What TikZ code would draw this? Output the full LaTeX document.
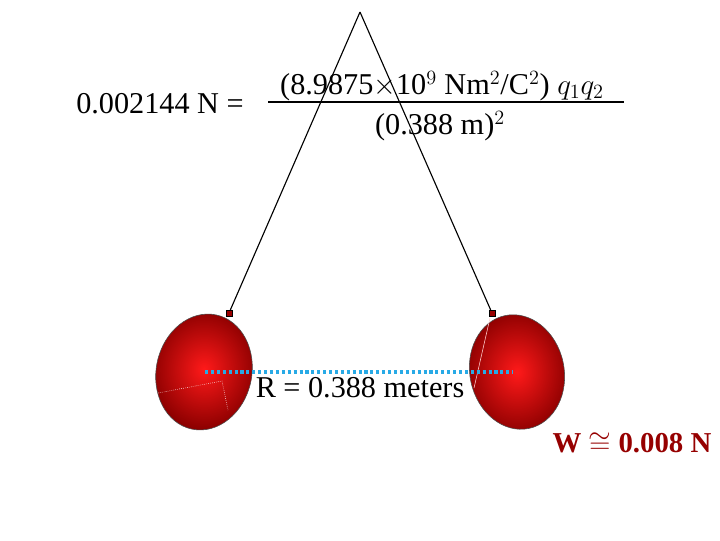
\documentclass[tikz,border=0pt]{standalone}
\usepackage{fontspec}
\setmainfont{Liberation Serif}
\usetikzlibrary{positioning,shapes.geometric}
\definecolor{skyline}{RGB}{40,170,230}
\definecolor{wred}{RGB}{150,0,0}
\tikzset{
    balloon/.style={ellipse, draw=black!70, thin, inner sep=0pt,
        inner color=red!90!white, outer color=red!55!black},
    knot/.style={fill=red!60!black, draw=black, minimum size=4pt, inner sep=0pt},
    txt/.style={font=\fontsize{21.5}{25}\selectfont, inner sep=1pt}
}
\begin{document}
\begin{tikzpicture}[x=0.025cm, y=-0.025cm]
    \useasboundingbox (0,0) rectangle (720,540);

    \coordinate (apex) at (360,12);
    \node[balloon, minimum width=68pt, minimum height=83pt, rotate=-12] (lball) at (204,372) {};
    \node[balloon, minimum width=67pt, minimum height=82pt, rotate=12] (rball) at (517,372) {};
    \node[knot] (lknot) at (229,313) {};
    \node[knot] (rknot) at (492,313) {};

    \draw[thick] (apex) -- (lknot);
    \draw[thick] (apex) -- (rknot);

    % faint marks on the balloons
    \draw[white, densely dotted] (158,393) -- (222,381) -- (228,410);
    \draw[white!80!red] (490,318) -- (474,388);

    % separation
    \coordinate (lc) at (205,372);
    \coordinate (rc) at (513,372);
    \draw[skyline, line width=2.2pt, dotted] (lc) -- (rc);
    \node[txt] (rlab) at (360,388) {R = 0.388 meters};

    % Coulomb's law
    \node[txt] (force) at (160,104) {0.002144 N =};
    \node[txt] (num) at (442,86) {(8.9875$\times$10$^{9}$ Nm$^{2}$/C$^{2}$) $q_1q_2$};
    \node[txt] (den) at (440,126) {(0.388 m)$^{2}$};
    \coordinate (barl) at (268,102);
    \coordinate (barr) at (624,102);
    \draw[thick] (barl) -- (barr);

    \node[txt, font=\fontsize{20.5}{24}\selectfont\bfseries, text=wred] (weight) at (632,443) {W $\cong$ 0.008 N};
\end{tikzpicture}
\end{document}
